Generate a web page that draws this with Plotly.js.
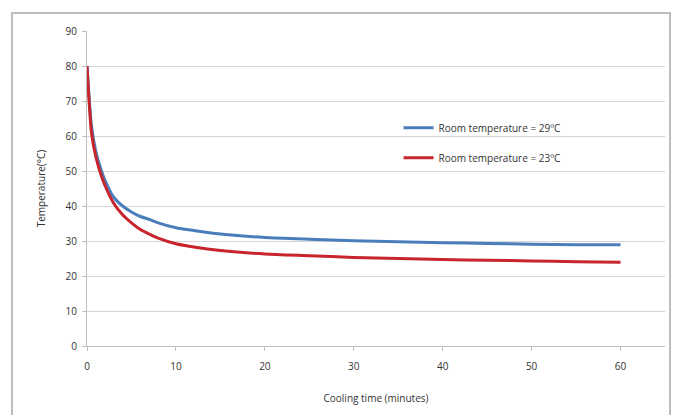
<!DOCTYPE html>
<html>
<head>
<meta charset="utf-8">
<script src="https://cdn.plot.ly/plotly-3.0.1.min.js"></script>
<style>
  html, body { margin: 0; padding: 0; background: #ffffff; }
  #chart { width: 681px; height: 415px; }
</style>
</head>
<body>
<div id="chart"></div>
<script>
// Cooling time (minutes)
const timeMinutes = [0, 0.5, 1, 1.5, 2, 3, 4, 5, 6, 7, 8, 10, 12, 15, 20, 25, 30, 35, 40, 45, 50, 55, 60];
// Room temperature = 29ºC
const temp29 = [80, 63, 55.5, 51, 47.5, 42.5, 40, 38.3, 37, 36.2, 35.2, 33.8, 33, 32, 31, 30.5, 30.1, 29.8, 29.5, 29.3, 29.1, 28.9, 28.9];
// Room temperature = 23ºC
const temp23 = [80, 61, 54, 49.5, 46, 40.8, 37.5, 35.2, 33.3, 32, 30.8, 29.2, 28.3, 27.3, 26.3, 25.8, 25.3, 25, 24.7, 24.5, 24.3, 24.1, 23.9];
const seriesNames = ["Room temperature = 29ºC", "Room temperature = 23ºC"];

const fontFam = "'Open Sans', 'Noto Sans', sans-serif";
const txtColor = "#333333";

const traces = [
  {
    x: timeMinutes, y: temp29, name: seriesNames[0], type: "scatter", mode: "lines",
    line: { color: "#4a7ebb", width: 3, shape: "spline", smoothing: 0.6 },
    legendgroup: "a"
  },
  {
    x: timeMinutes, y: temp23, name: seriesNames[1], type: "scatter", mode: "lines",
    line: { color: "#c8242b", width: 3, shape: "spline", smoothing: 0.6 },
    legendgroup: "b"
  }
];

const layout = {
  width: 681, height: 415,
  margin: { l: 87, r: 16, t: 31, b: 69 },
  paper_bgcolor: "#ffffff",
  plot_bgcolor: "#ffffff",
  font: { family: fontFam, size: 10, color: txtColor },
  showlegend: true,
  legend: {
    x: 0.539, y: 0.739, xanchor: "left", yanchor: "top",
    bgcolor: "rgba(0,0,0,0)",
    font: { family: fontFam, size: 10, color: txtColor },
    itemwidth: 30,
    traceorder: "grouped",
    tracegroupgap: 11
  },
  xaxis: {
    range: [0, 65],
    tickvals: [0, 10, 20, 30, 40, 50, 60],
    showgrid: false,
    zeroline: false,
    showline: true, linecolor: "#bfbfbf", linewidth: 1,
    ticks: "outside", ticklen: 4, tickcolor: "#bfbfbf",
    ticklabelstandoff: 7,
    tickfont: { family: fontFam, size: 10, color: txtColor },
    title: { text: "Cooling time (minutes)", font: { family: fontFam, size: 10, color: txtColor }, standoff: 22 }
  },
  yaxis: {
    range: [0, 90],
    tickvals: [0, 10, 20, 30, 40, 50, 60, 70, 80, 90],
    showgrid: true, gridcolor: "#d4d4d4", gridwidth: 1,
    zeroline: false,
    showline: true, linecolor: "#bfbfbf", linewidth: 1,
    ticks: "outside", ticklen: 4, tickcolor: "#bfbfbf",
    ticklabelstandoff: 3,
    tickfont: { family: fontFam, size: 10, color: txtColor },
    title: { text: "Temperature(°C)", font: { family: fontFam, size: 10, color: txtColor }, standoff: 18 }
  },
  shapes: [
    {
      type: "rect", xref: "paper", yref: "paper",
      x0: -0.1298, x1: 1.0087, y0: -0.24, y1: 1.057,
      line: { color: "#bdbdbd", width: 2 }, fillcolor: "rgba(0,0,0,0)", layer: "below"
    }
  ]
};

Plotly.newPlot("chart", traces, layout, { displayModeBar: false, staticPlot: true });
</script>
</body>
</html>
